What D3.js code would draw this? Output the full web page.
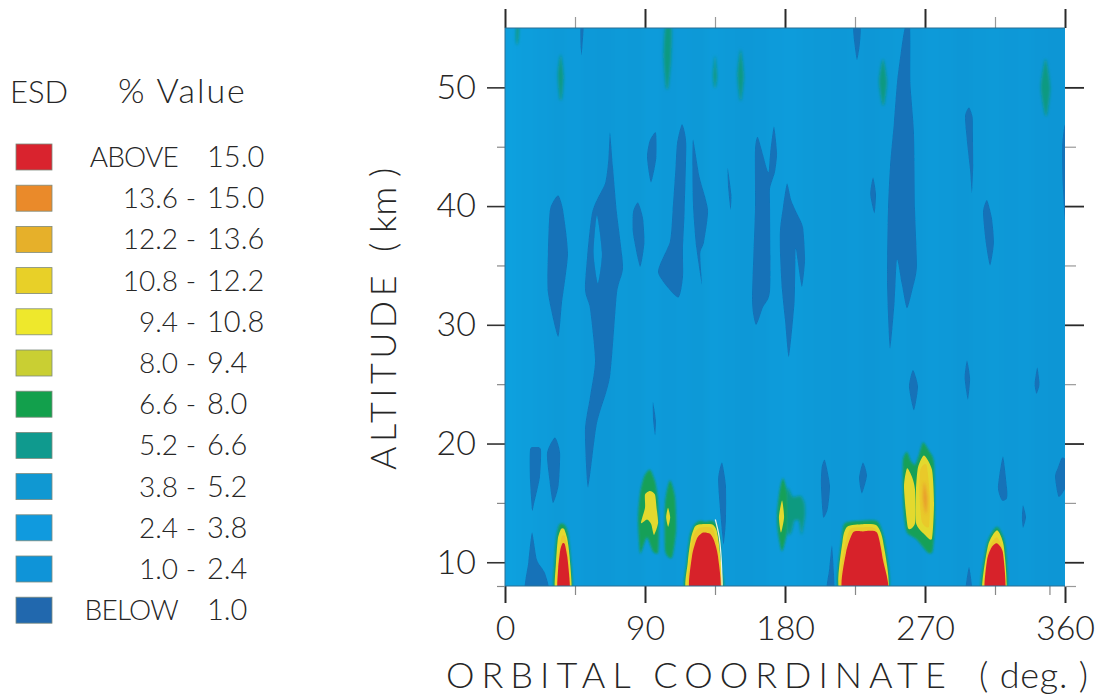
<!DOCTYPE html>
<html>
<head>
<meta charset="utf-8">
<script src="https://cdn.jsdelivr.net/npm/d3@7"></script>
<style>
  body { margin: 0; background: #fff; }
  text { font-family: Lato, "Open Sans", sans-serif; font-weight: 300; fill: #262626; }
</style>
</head>
<body>
<svg id="chart" width="1101" height="697"></svg>
<script>
// legend
var legendLow = ["ABOVE","13.6","12.2","10.8","9.4","8.0","6.6","5.2","3.8","2.4","1.0","BELOW"];
var legendHigh = ["15.0","15.0","13.6","12.2","10.8","9.4","8.0","6.6","5.2","3.8","2.4","1.0"];
var legendColors = ["#d9232e","#ea8a2a","#e6b02a","#e8d028","#eee82c","#c9cf33","#12a04c","#0f9a8e","#1098d2","#109ade","#0f94d8","#2168ae"];

// axes
var xMajor = [0,90,180,270,360];
var xMinorTop = [45,135,225,315];
var xMinorBottom = [45,135,225,315,350];
var yMajor = [10,20,30,40,50];
var yMinor = [8,15,25,35,45];

// faint vertical banding of the 1.0 - 5.2 background, one value per 10 deg
var bandEsd = [4.6,4.3,3.9,3.6,3.8,3.5,3.3,3.6,3.4,3.8,3.5,3.7,3.4,3.9,3.6,3.3,3.5,3.8,4.0,3.6,3.4,3.3,3.5,3.2,3.4,3.6,3.3,3.7,3.5,3.2,3.4,3.6,3.3,3.5,3.2,3.0];

// ESD contours, each a list of [orbital deg, altitude km]
var belowContours = [
  [[48.5,55],[50.5,55],[49.8,53.5],[49.2,52.7],[48.6,53.5]],
  [[34.1,40.9],[37.3,39.7],[40.5,36],[36.6,31.8],[34.1,29],[27.6,32.7],[27.6,36],[28.9,39.7]],
  [[67.5,46.2],[69.4,43.3],[72,39.4],[75.9,34.9],[72,32.7],[67.5,25.6],[59.1,21.7],[53.4,16.3],[51.4,21.1],[54.6,23.9],[57.9,27],[54.6,31.4],[51.4,33.2],[55.9,39.4],[64.3,41.9],[66.5,44]],
  [[85.5,40.3],[88.7,39],[89.6,36.9],[86.8,34.9],[82.3,37.7],[82.3,39.5]],
  [[97,46.2],[97.3,44.1],[93.9,42],[91.3,44.1],[93,45.5]],
  [[113.8,46.9],[116.5,45.3],[115.5,39.7],[114.4,36.3],[114.4,34],[111.2,32.3],[98.4,34.4],[106,37],[107.8,39.7],[109.5,43],[110.6,45.3]],
  [[120.9,45.6],[125,42.5],[130.5,39.7],[128,37],[125.5,36],[126.6,33.4],[123,36.5],[121,39.7],[120.5,42.5]],
  [[143.2,43.2],[145.5,41],[145,39.7],[143.5,41.5]],
  [[162.6,45.8],[168,43.3],[169.5,42.9],[170.5,44.5],[172.9,46.7],[174.9,44.5],[173.6,42.9],[170.4,41.5],[170.4,39.7],[170.4,32.9],[165.9,31.5],[161.4,30],[158.8,32.1],[160.7,39.7],[160.7,44.7]],
  [[181.3,41.9],[184,40.5],[187.7,39.4],[191.6,38.2],[192.9,35.5],[190.9,33.2],[188,35.5],[186.8,36.3],[186.2,32],[182.5,27.3],[180,30.4],[178,33],[176.8,36],[176.8,38],[178.8,40]],
  [[223.9,55],[228.6,55],[228,53.5],[226.3,52.3],[224.8,53.5]],
  [[236.6,42.4],[238.5,41],[237.5,39.4],[234.8,41]],
  [[257,55],[260.4,55],[260.6,50.4],[262.9,46.2],[263.6,39.7],[264.8,34.9],[262,33],[258.4,31.4],[255,33.5],[252,35.5],[250.5,32],[247.5,28],[245.6,33.5],[246.2,39.7],[247.5,43.3],[250,47],[252,50.4],[254.5,53]],
  [[298.3,48.3],[300.6,47.5],[300.8,46.2],[301,43.5],[300.2,41.1],[299,43],[297.6,44.7],[295.7,47.5]],
  [[309.9,40.5],[313,39],[314.3,36.9],[311.8,35],[309,37],[307.3,39.5]],
  [[360,46.8],[361,42],[360,38.8],[358.5,42],[358.2,45]],
  [[262.3,26.2],[265.5,24.8],[262.9,22.8],[259.7,24.8]],
  [[297,27],[299,25.5],[297.6,23.7],[295.5,25.5]],
  [[342.2,26.4],[343.6,25],[341.7,24.2],[340.5,25]],
  [[95.1,23.5],[97,22],[96.5,20.7],[95.2,22]],
  [[19.3,19.7],[23.1,19.5],[22.5,17.2],[18.5,14.8],[17.4,14.4],[16.1,16.9],[16.1,19.5]],
  [[32.1,20.5],[35.4,19.2],[34.5,16.5],[30.9,15],[28.5,17],[27,19.2]],
  [[17.4,12.5],[20.6,10.2],[25.7,9.1],[28,7.5],[13,7.5],[15,10]],
  [[139.5,18.4],[142,16.5],[142,13.5],[140.5,11.5],[138.5,14],[137,17]],
  [[205.7,18.6],[208.9,16.5],[207.5,14.5],[204.5,13.8],[203.1,16.5],[203.6,18]],
  [[230.1,18.4],[232.7,17.3],[229.5,15.8],[227.6,17.1]],
  [[210.2,11.4],[211.5,9],[211.5,7.5],[206.5,7.5],[208.5,9.5]],
  [[320.1,18.9],[322.7,16.3],[322.7,15.4],[319.5,15.2],[316.9,16.3]],
  [[333,14.8],[334.9,13.8],[333,12.9],[332.3,13.8]],
  [[358,18.8],[361,18.5],[361,16.5],[356,15.5],[353.6,17.2],[355.5,18]],
  [[298.3,9.6],[300.5,7.5],[296,7.5]]
];
var belowHoles = [
  [[59.1,39.2],[57,36],[59.7,33.5],[62.3,36]]
];
var tealContours = [
  [[7.2,55],[9,55],[8.6,54],[7.8,53.5],[7,54]],
  [[35.8,52.8],[37.6,51],[36.6,49.1],[35.3,49],[34,51]],
  [[103,55],[107,55],[106.8,52.5],[105,50],[103.5,50],[102,52.5]],
  [[135,52.7],[136.3,51],[135.4,50],[134.6,50],[133.8,51]],
  [[151.5,53.2],[153.5,51],[152,49],[151,49],[149.5,51]],
  [[243,52.4],[245.5,50.5],[243.8,48.6],[242.5,48.6],[240.5,50.5]],
  [[347.5,52.4],[350.5,50],[348.5,47.7],[347,47.8],[344.5,50]],
  [[181.3,16.2],[185,15.5],[190,15.6],[192.5,15],[192.9,14],[191.5,12.8],[190.5,12.3],[189,13.5],[186,13.5],[184,12.5],[181.5,12.5]]
];
var greenContours = [
  [[93.2,17.8],[96.5,16.8],[98.4,15.2],[98.9,12.5],[98.4,10.8],[95.1,10.9],[91.3,12.1],[88.5,11.2],[86.8,10.8],[85.5,13.6],[86.8,15.8],[89.4,17.2]],
  [[106,16.9],[109.3,15.5],[110,12.7],[107.4,10.4],[102.9,11],[102.9,15]],
  [[178.7,17.1],[181.5,15.8],[181.8,14],[181.3,12.5],[178.1,10.9],[175.5,12.5],[174.9,14.1],[176.5,16]],
  [[268.7,20.1],[272.5,19.4],[275.8,18.4],[276.4,13.6],[275,11],[271.9,10.8],[264.8,11.9],[258.4,12.5],[256.5,14],[255.8,16.3],[255.8,18.6],[258.4,19.3],[261,18.5],[263.6,18.2],[266,19]],
  [[35,13.2],[38,13.2],[40.5,12.5],[42.5,10],[43,7.5],[31.5,7.5],[32,10.5],[33.2,12.3]],
  [[125.4,13.5],[129,13.4],[133,13.5],[136,13.2],[138.2,12],[139.5,9.5],[139.8,7.5],[116,7.5],[116.8,10],[118.9,12.3],[122,13.2]],
  [[218.6,13.3],[230.1,13.5],[239.8,13.4],[244.3,11.6],[246.2,7.5],[214.7,7.5],[216.6,12.1]],
  [[316.3,13],[321.4,11.6],[322.7,7.5],[306,7.5],[309.9,11.6]]
];
var yellowContours = [
  [[93.2,16],[96.4,15.7],[97.5,14.5],[98.4,13.3],[95.8,12.3],[94,13.2],[91.3,13.6],[87.4,13.3],[90,14.6],[90,15.7]],
  [[104.8,14.6],[106.2,13.8],[104.9,13],[103.6,13.8]],
  [[178.1,15.2],[179.4,13.8],[177.4,12.5],[176.1,13.8]],
  [[258.4,17.9],[261.6,17.2],[263.6,16.1],[263.6,13.3],[259,12.9],[256.5,16.3]],
  [[269.4,19],[274.5,17.8],[275.8,15],[274.5,12],[270,12.3],[264.2,13.3],[264.2,16.1],[265.5,18]],
  [[36,12.8],[38,12.8],[40,12],[41.5,10.5],[42.5,7.5],[32.3,7.5],[32.8,10],[34,12]],
  [[125.4,13.2],[133,13.2],[136,12.7],[138,11],[139,7.5],[116.8,7.5],[117.5,10],[119.5,12],[122,13]],
  [[220,13],[230,13.2],[239,13.1],[243,11.8],[245.8,7.5],[215.4,7.5],[217,11.8]],
  [[316.3,12.7],[320.6,11.4],[322,7.5],[307,7.5],[310.5,11.4]]
];
var goldContours = [
  [[267,17.8],[271,18.2],[273.2,15.5],[272.5,13],[268,13.4],[266.5,15.5]],
  [[36.5,12.2],[38.5,12.2],[40,11.3],[41.2,9.5],[41.5,7.5],[33.7,7.5],[34,9.8],[35.2,11.3]],
  [[125,12.9],[133,12.9],[135.5,12],[137.5,10.5],[138.5,7.5],[118,7.5],[119,10.5],[121,12.2]],
  [[222,12.8],[230,12.95],[238,12.85],[242,11.4],[245.3,7.5],[216,7.5],[218.2,11.2]],
  [[316.3,12.1],[320,11],[321.6,7.5],[308,7.5],[310.2,10.8],[312.5,11.6]]
];
var orangeContours = [
  [[269.5,16.8],[271.4,15.4],[270.6,14],[268.8,15.4]]
];
var redContours = [
  [[37,11.6],[38.5,11.5],[40,10.5],[41.2,9],[41.4,7.5],[33.9,7.5],[34.2,9.5],[35.5,11]],
  [[127.3,12.5],[131.8,12.4],[134.5,11.8],[136.9,10.5],[138,7.5],[118.9,7.5],[120.2,10.5],[123.4,12]],
  [[223.7,12.5],[230,12.6],[239.1,12.5],[243,10.2],[245.6,7.5],[217.3,7.5],[219.2,10.8]],
  [[316.3,11.6],[320.1,10.8],[321.4,7.5],[308.6,7.5],[309.9,10.2],[313,11.3]]
];
var edgeSliver = [[135.2,13.6],[137.6,12.2],[138.9,10.5],[139.6,8]];

var svg = d3.select("#chart");
var margin = {top: 28, right: 36, bottom: 111, left: 505};
var width = 1101 - margin.left - margin.right;
var height = 697 - margin.top - margin.bottom;

var x = d3.scaleLinear().domain([0, 360]).range([0, width]);
var y = d3.scaleLinear().domain([8, 55]).range([height, 0]);
var bandColor = d3.scaleLinear().domain([3, 4.6]).range(["#0a96d5", "#08a0de"]);

var defs = svg.append("defs");
defs.append("clipPath").attr("id", "plotClip")
  .append("rect").attr("width", width).attr("height", height);
function addBlur(id, amount) {
  defs.append("filter").attr("id", id)
    .attr("x", "-30%").attr("y", "-30%").attr("width", "160%").attr("height", "160%")
    .append("feGaussianBlur").attr("stdDeviation", amount);
}
addBlur("soft", 0.7);
addBlur("medium", 1.2);
addBlur("softer", 1.6);
addBlur("bands", 3);

var g = svg.append("g").attr("transform", "translate(" + margin.left + "," + margin.top + ")");
var plot = g.append("g").attr("clip-path", "url(#plotClip)");

plot.append("rect").attr("width", width).attr("height", height).attr("fill", "#0a9ad9");

plot.append("g").attr("filter", "url(#bands)").selectAll("rect")
  .data(bandEsd).enter().append("rect")
  .attr("x", function(d, i) { return x(i * 10) - 1; })
  .attr("width", x(10) - x(0) + 2)
  .attr("y", -10)
  .attr("height", height + 20)
  .attr("fill", function(d) { return bandColor(d); });

var contour = d3.line()
  .x(function(d) { return x(d[0]); })
  .y(function(d) { return y(d[1]); })
  .curve(d3.curveCardinalClosed.tension(0.35));

function drawLevel(list, color, filter) {
  plot.append("g").attr("filter", "url(#" + filter + ")").selectAll("path")
    .data(list).enter().append("path")
    .attr("d", contour)
    .attr("fill", color);
}

drawLevel(belowContours, "#1272b8", "soft");
drawLevel(belowHoles, "#0a9ad9", "soft");
drawLevel(tealContours, "#119a80", "softer");
drawLevel(greenContours, "#13a059", "medium");
drawLevel(yellowContours, "#e3d92e", "soft");
drawLevel(goldContours, "#e9c92b", "soft");
drawLevel(orangeContours, "#e99a2c", "softer");
drawLevel(redContours, "#d7202c", "soft");

plot.append("path")
  .attr("d", d3.line().x(function(d) { return x(d[0]); }).y(function(d) { return y(d[1]); }).curve(d3.curveCatmullRom)(edgeSliver))
  .attr("fill", "none")
  .attr("stroke", "#e8f2e8")
  .attr("stroke-width", 1.2);

// axes, major and minor drawn separately
function styleAxis(sel, color, w) {
  sel.selectAll("line").attr("stroke", color).attr("stroke-width", w);
  sel.select(".domain").remove();
}
function noText(sel) { sel.selectAll("text").remove(); }

g.append("g").call(d3.axisTop(x).tickValues(xMajor).tickSize(19).tickFormat("")).call(styleAxis, "#2a2a2a", 2).call(noText);
g.append("g").call(d3.axisTop(x).tickValues(xMinorTop).tickSize(11).tickFormat("")).call(styleAxis, "#999", 1.2).call(noText);
g.append("g").attr("transform", "translate(0," + height + ")")
  .call(d3.axisBottom(x).tickValues(xMinorBottom).tickSize(9).tickFormat("")).call(styleAxis, "#888", 1.2).call(noText);
var xAxis = g.append("g").attr("transform", "translate(0," + height + ")")
  .call(d3.axisBottom(x).tickValues(xMajor).tickSize(17).tickPadding(13).tickFormat(d3.format("d")))
  .call(styleAxis, "#2a2a2a", 2);
xAxis.selectAll("text").attr("fill", null).style("font-size", "34px");

var yAxis = g.append("g")
  .call(d3.axisLeft(y).tickValues(yMajor).tickSize(18).tickPadding(11).tickFormat(d3.format("d")))
  .call(styleAxis, "#333", 1.6);
yAxis.selectAll("text").attr("fill", null).style("font-size", "34px");
g.append("g").call(d3.axisLeft(y).tickValues(yMinor).tickSize(8).tickFormat("")).call(styleAxis, "#888", 1.2).call(noText);
g.append("g").attr("transform", "translate(" + width + ",0)")
  .call(d3.axisRight(y).tickValues(yMajor).tickSize(19).tickFormat("")).call(styleAxis, "#2a2a2a", 1.8).call(noText);
g.append("g").attr("transform", "translate(" + width + ",0)")
  .call(d3.axisRight(y).tickValues(yMinor).tickSize(11).tickFormat("")).call(styleAxis, "#999", 1.2).call(noText);

// thin edge on the plot frame
g.append("path")
  .attr("d", d3.line()([[0, height], [0, 0], [width, 0]]))
  .attr("fill", "none").attr("stroke", "#2b6e93").attr("stroke-width", 1);
g.append("line").attr("y1", height).attr("y2", height).attr("x2", width)
  .attr("stroke", "#2b6e93").attr("stroke-width", 1);

// axis titles
svg.append("text")
  .attr("x", 446).attr("y", 688)
  .style("font-size", "36px").style("letter-spacing", "7px")
  .text("ORBITAL COORDINATE");
svg.append("text")
  .attr("x", 979).attr("y", 688)
  .style("font-size", "36px").style("letter-spacing", "0.8px")
  .text("( deg. )");
svg.append("text")
  .attr("transform", "translate(396,470) rotate(-90)")
  .style("font-size", "36px").style("letter-spacing", "4.4px")
  .text("ALTITUDE");
svg.append("text")
  .attr("transform", "translate(396,252) rotate(-90)")
  .style("font-size", "36px")
  .text("( km )");

// legend
var legend = svg.append("g");
legend.append("text").attr("x", 10).attr("y", 103).style("font-size", "31px").text("ESD");
legend.append("text").attr("x", 118).attr("y", 103).style("font-size", "34px").style("letter-spacing", "2px").text("% Value");

var rowStep = 41.2;
var rows = legend.selectAll(".row").data(legendColors).enter().append("g")
  .attr("class", "row")
  .attr("transform", function(d, i) { return "translate(0," + (144 + i * rowStep) + ")"; });
rows.append("rect")
  .attr("x", 16).attr("width", 36).attr("height", 26)
  .attr("fill", function(d) { return d; })
  .attr("stroke", "#7d8a7d").attr("stroke-width", 0.8);
rows.append("text")
  .attr("x", 178).attr("y", 23).attr("text-anchor", "end")
  .style("font-size", "28px")
  .style("letter-spacing", function(d, i) { return (i === 0 || i === 11) ? "-0.8px" : "0"; })
  .text(function(d, i) { return legendLow[i]; });
rows.append("text")
  .attr("x", 191).attr("y", 23).attr("text-anchor", "middle")
  .style("font-size", "28px")
  .text(function(d, i) { return (i === 0 || i === 11) ? "" : "-"; });
rows.append("text")
  .attr("x", 207).attr("y", 23)
  .style("font-size", "29px")
  .text(function(d, i) { return legendHigh[i]; });
</script>
</body>
</html>
